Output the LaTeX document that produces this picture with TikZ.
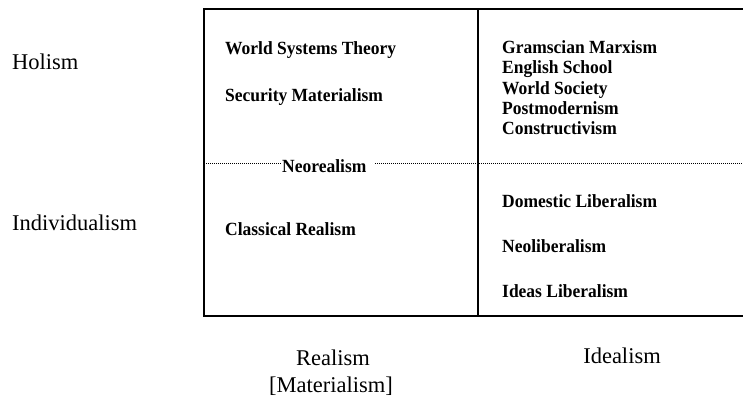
\documentclass[tikz,border=0pt]{standalone}
\usepackage{fontspec}
\setmainfont{Liberation Serif}
\newfontfamily\boxfont[FakeStretch=0.94]{Liberation Serif}
\usetikzlibrary{calc}
\tikzset{
  itembox/.style={font=\boxfont\bfseries\fontsize{18.6}{21}\selectfont, anchor=base west, inner sep=0pt},
  axislabel/.style={font=\fontsize{22.5}{26}\selectfont, inner sep=0pt},
  frame/.style={line width=2pt, black},
  divline/.style={line width=1pt, dash pattern=on 1pt off 1pt, black}
}
\begin{document}
\begin{tikzpicture}[x=1pt,y=-1pt]
\useasboundingbox (0,0) rectangle (743,396);
% frame
\coordinate (tr) at (743,9);
\coordinate (tl) at (204,9);
\coordinate (bl) at (204,316);
\coordinate (br) at (743,316);
\coordinate (mt) at (478,9);
\coordinate (mb) at (478,316);
\draw[frame] (tr) -- (tl) -- (bl) -- (br);
\draw[frame] (mt) -- (mb);
% upper left
\node[itembox] (wst) at (225,55) {World Systems Theory};
\node[itembox] (sm) at (225,101) {Security Materialism};
% neorealism and dotted divider
\node[itembox] (neo) at (282,172) {Neorealism};
\coordinate (dl) at (204,163);
\coordinate (dm) at (375,163);
\coordinate (dr) at (743,163);
\draw[divline] (dl) -- (dl -| neo.west);
\draw[divline] (dm) -- (dr);
% lower left
\node[itembox] (cr) at (225,235) {Classical Realism};
% upper right
\node[itembox] (gm) at (502,53) {Gramscian Marxism};
\node[itembox] (es) at (502,74) {English School};
\node[itembox] (ws) at (502,94) {World Society};
\node[itembox] (pm) at (502,114) {Postmodernism};
\node[itembox] (co) at (502,134) {Constructivism};
% lower right
\node[itembox] (dlib) at (502,207) {Domestic Liberalism};
\node[itembox] (nlib) at (502,252) {Neoliberalism};
\node[itembox] (ilib) at (502,297) {Ideas Liberalism};
% axis labels
\node[axislabel, anchor=base west] (hol) at (12,69) {Holism};
\node[axislabel, anchor=base west] (ind) at (12,230) {Individualism};
\node[axislabel, anchor=base] (real) at (333,365) {Realism};
\node[axislabel, anchor=base] (mat) at (331,392) {[Materialism]};
\node[axislabel, anchor=base] (ideal) at (622,363) {Idealism};
\end{tikzpicture}
\end{document}
